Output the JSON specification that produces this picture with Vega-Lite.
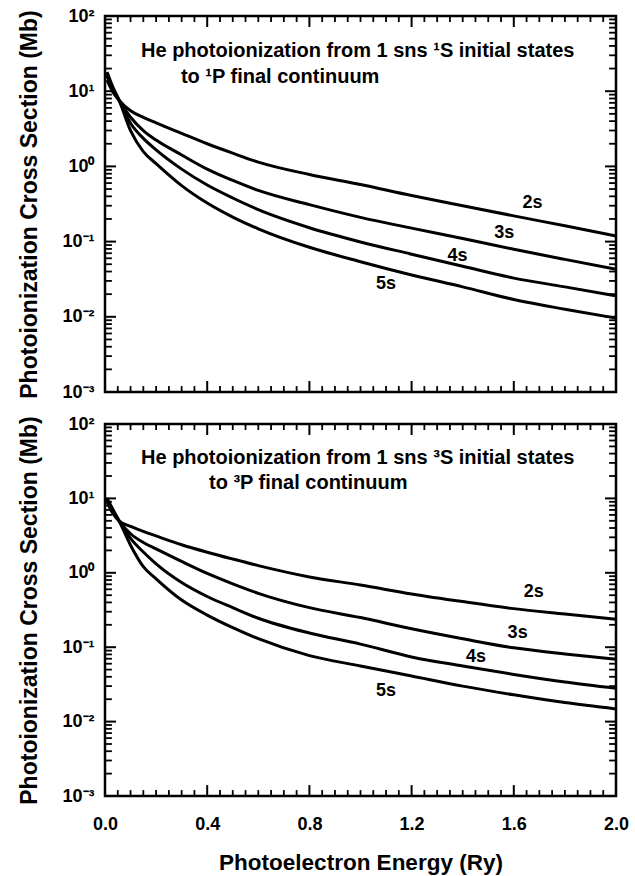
{
  "$schema": "https://vega.github.io/schema/vega-lite/v6.json",
  "padding": {"left": 17, "top": 5, "right": 5, "bottom": 2},
  "spacing": 10,
  "datasets": {
    "singlet": [
      {"s":"2s","E":0.008,"v":14},{"s":"2s","E":0.03,"v":9.8},{"s":"2s","E":0.055,"v":7.6},{"s":"2s","E":0.1,"v":5.5},{"s":"2s","E":0.15,"v":4.5},{"s":"2s","E":0.2,"v":3.8},{"s":"2s","E":0.3,"v":2.75},{"s":"2s","E":0.4,"v":2.0},{"s":"2s","E":0.5,"v":1.5},{"s":"2s","E":0.6,"v":1.14},{"s":"2s","E":0.8,"v":0.78},{"s":"2s","E":1.0,"v":0.575},{"s":"2s","E":1.2,"v":0.41},{"s":"2s","E":1.4,"v":0.3},{"s":"2s","E":1.6,"v":0.22},{"s":"2s","E":1.8,"v":0.162},{"s":"2s","E":2.0,"v":0.119},
      {"s":"3s","E":0.008,"v":16},{"s":"3s","E":0.03,"v":10.5},{"s":"3s","E":0.055,"v":7.6},{"s":"3s","E":0.1,"v":4.5},{"s":"3s","E":0.15,"v":3.0},{"s":"3s","E":0.2,"v":2.24},{"s":"3s","E":0.3,"v":1.42},{"s":"3s","E":0.4,"v":0.92},{"s":"3s","E":0.5,"v":0.65},{"s":"3s","E":0.6,"v":0.48},{"s":"3s","E":0.8,"v":0.31},{"s":"3s","E":1.0,"v":0.21},{"s":"3s","E":1.2,"v":0.151},{"s":"3s","E":1.4,"v":0.11},{"s":"3s","E":1.6,"v":0.079},{"s":"3s","E":1.8,"v":0.058},{"s":"3s","E":2.0,"v":0.043},
      {"s":"4s","E":0.008,"v":17},{"s":"4s","E":0.03,"v":11},{"s":"4s","E":0.055,"v":7.6},{"s":"4s","E":0.1,"v":3.75},{"s":"4s","E":0.15,"v":2.36},{"s":"4s","E":0.2,"v":1.66},{"s":"4s","E":0.3,"v":0.92},{"s":"4s","E":0.4,"v":0.565},{"s":"4s","E":0.5,"v":0.38},{"s":"4s","E":0.6,"v":0.266},{"s":"4s","E":0.8,"v":0.153},{"s":"4s","E":1.0,"v":0.099},{"s":"4s","E":1.2,"v":0.068},{"s":"4s","E":1.4,"v":0.047},{"s":"4s","E":1.6,"v":0.0327},{"s":"4s","E":1.8,"v":0.025},{"s":"4s","E":2.0,"v":0.019},
      {"s":"5s","E":0.008,"v":18},{"s":"5s","E":0.03,"v":11.5},{"s":"5s","E":0.055,"v":7.6},{"s":"5s","E":0.1,"v":2.98},{"s":"5s","E":0.15,"v":1.57},{"s":"5s","E":0.2,"v":1.09},{"s":"5s","E":0.3,"v":0.556},{"s":"5s","E":0.4,"v":0.326},{"s":"5s","E":0.5,"v":0.212},{"s":"5s","E":0.6,"v":0.148},{"s":"5s","E":0.8,"v":0.084},{"s":"5s","E":1.0,"v":0.054},{"s":"5s","E":1.2,"v":0.036},{"s":"5s","E":1.4,"v":0.025},{"s":"5s","E":1.6,"v":0.017},{"s":"5s","E":1.8,"v":0.0126},{"s":"5s","E":2.0,"v":0.0096}
    ],
    "triplet": [
      {"s":"2s","E":0.008,"v":9.0},{"s":"2s","E":0.03,"v":6.3},{"s":"2s","E":0.055,"v":5.0},{"s":"2s","E":0.1,"v":4.2},{"s":"2s","E":0.15,"v":3.6},{"s":"2s","E":0.2,"v":3.13},{"s":"2s","E":0.3,"v":2.38},{"s":"2s","E":0.4,"v":1.89},{"s":"2s","E":0.5,"v":1.53},{"s":"2s","E":0.6,"v":1.25},{"s":"2s","E":0.8,"v":0.88},{"s":"2s","E":1.0,"v":0.685},{"s":"2s","E":1.2,"v":0.52},{"s":"2s","E":1.4,"v":0.41},{"s":"2s","E":1.6,"v":0.33},{"s":"2s","E":1.8,"v":0.279},{"s":"2s","E":2.0,"v":0.237},
      {"s":"3s","E":0.008,"v":9.5},{"s":"3s","E":0.03,"v":6.7},{"s":"3s","E":0.055,"v":5.0},{"s":"3s","E":0.1,"v":3.35},{"s":"3s","E":0.15,"v":2.56},{"s":"3s","E":0.2,"v":2.1},{"s":"3s","E":0.3,"v":1.42},{"s":"3s","E":0.4,"v":0.98},{"s":"3s","E":0.5,"v":0.71},{"s":"3s","E":0.6,"v":0.53},{"s":"3s","E":0.8,"v":0.34},{"s":"3s","E":1.0,"v":0.25},{"s":"3s","E":1.2,"v":0.177},{"s":"3s","E":1.4,"v":0.13},{"s":"3s","E":1.6,"v":0.098},{"s":"3s","E":1.8,"v":0.081},{"s":"3s","E":2.0,"v":0.069},
      {"s":"4s","E":0.008,"v":9.8},{"s":"4s","E":0.03,"v":7.0},{"s":"4s","E":0.055,"v":5.0},{"s":"4s","E":0.1,"v":2.9},{"s":"4s","E":0.15,"v":1.9},{"s":"4s","E":0.2,"v":1.32},{"s":"4s","E":0.3,"v":0.74},{"s":"4s","E":0.4,"v":0.48},{"s":"4s","E":0.5,"v":0.34},{"s":"4s","E":0.6,"v":0.245},{"s":"4s","E":0.8,"v":0.155},{"s":"4s","E":1.0,"v":0.11},{"s":"4s","E":1.2,"v":0.074},{"s":"4s","E":1.4,"v":0.056},{"s":"4s","E":1.6,"v":0.043},{"s":"4s","E":1.8,"v":0.034},{"s":"4s","E":2.0,"v":0.028},
      {"s":"5s","E":0.008,"v":10.0},{"s":"5s","E":0.03,"v":7.2},{"s":"5s","E":0.055,"v":5.0},{"s":"5s","E":0.1,"v":2.35},{"s":"5s","E":0.15,"v":1.21},{"s":"5s","E":0.2,"v":0.83},{"s":"5s","E":0.3,"v":0.43},{"s":"5s","E":0.4,"v":0.27},{"s":"5s","E":0.5,"v":0.183},{"s":"5s","E":0.6,"v":0.13},{"s":"5s","E":0.8,"v":0.077},{"s":"5s","E":1.0,"v":0.056},{"s":"5s","E":1.2,"v":0.041},{"s":"5s","E":1.4,"v":0.03},{"s":"5s","E":1.6,"v":0.0229},{"s":"5s","E":1.8,"v":0.018},{"s":"5s","E":2.0,"v":0.0148}
    ],
    "lblS": [
      {"s":"2s","E":1.673,"v":0.323},{"s":"3s","E":1.563,"v":0.129},{"s":"4s","E":1.38,"v":0.0645},{"s":"5s","E":1.1,"v":0.0273}
    ],
    "lblT": [
      {"s":"2s","E":1.678,"v":0.552},{"s":"3s","E":1.615,"v":0.157},{"s":"4s","E":1.452,"v":0.074},{"s":"5s","E":1.1,"v":0.026}
    ],
    "ttlS": [
      {"t":"He photoionization from 1 sns ¹S initial states","E":0.141,"v":28.5},
      {"t":"to ¹P final continuum","E":0.297,"v":12.9}
    ],
    "ttlT": [
      {"t":"He photoionization from 1 sns ³S initial states","E":0.141,"v":29},
      {"t":"to ³P final continuum","E":0.407,"v":13.4}
    ],
    "yMaj": [{"v":0.001},{"v":0.01},{"v":0.1},{"v":1},{"v":10},{"v":100}],
    "yMin": [{"v":0.002},{"v":0.003},{"v":0.004},{"v":0.005},{"v":0.006},{"v":0.007},{"v":0.008},{"v":0.009},{"v":0.02},{"v":0.03},{"v":0.04},{"v":0.05},{"v":0.06},{"v":0.07},{"v":0.08},{"v":0.09},{"v":0.2},{"v":0.3},{"v":0.4},{"v":0.5},{"v":0.6},{"v":0.7},{"v":0.8},{"v":0.9},{"v":2},{"v":3},{"v":4},{"v":5},{"v":6},{"v":7},{"v":8},{"v":9},{"v":20},{"v":30},{"v":40},{"v":50},{"v":60},{"v":70},{"v":80},{"v":90}],
    "xMaj": [{"E":0.4},{"E":0.8},{"E":1.2},{"E":1.6}],
    "xMin": [{"E":0.05},{"E":0.1},{"E":0.15},{"E":0.2},{"E":0.25},{"E":0.3},{"E":0.35},{"E":0.45},{"E":0.5},{"E":0.55},{"E":0.6},{"E":0.65},{"E":0.7},{"E":0.75},{"E":0.85},{"E":0.9},{"E":0.95},{"E":1.0},{"E":1.05},{"E":1.1},{"E":1.15},{"E":1.25},{"E":1.3},{"E":1.35},{"E":1.4},{"E":1.45},{"E":1.5},{"E":1.55},{"E":1.65},{"E":1.7},{"E":1.75},{"E":1.8},{"E":1.85},{"E":1.9},{"E":1.95}]
  },
  "vconcat": [
    {
      "width": 511,
      "height": 376,
      "layer": [
        {"data": {"name": "yMaj"}, "mark": {"type": "rule", "color": "black", "strokeWidth": 2},
          "encoding": {"x": {"datum": 0, "type": "quantitative", "scale": {"domain": [0, 2], "nice": false}, "axis": null}, "x2": {"datum": 0.043},
            "y": {"field": "v", "type": "quantitative", "scale": {"type": "log", "domain": [0.001, 100], "nice": false}, "axis": null}}},
        {"data": {"name": "yMin"}, "mark": {"type": "rule", "color": "black", "strokeWidth": 1.8},
          "encoding": {"x": {"datum": 0, "type": "quantitative", "scale": {"domain": [0, 2], "nice": false}, "axis": null}, "x2": {"datum": 0.027},
            "y": {"field": "v", "type": "quantitative", "scale": {"type": "log", "domain": [0.001, 100], "nice": false}, "axis": null}}},
        {"data": {"name": "yMaj"}, "mark": {"type": "rule", "color": "black", "strokeWidth": 2},
          "encoding": {"x": {"datum": 1.957, "type": "quantitative", "scale": {"domain": [0, 2], "nice": false}, "axis": null}, "x2": {"datum": 2},
            "y": {"field": "v", "type": "quantitative", "scale": {"type": "log", "domain": [0.001, 100], "nice": false}, "axis": null}}},
        {"data": {"name": "yMin"}, "mark": {"type": "rule", "color": "black", "strokeWidth": 1.8},
          "encoding": {"x": {"datum": 1.973, "type": "quantitative", "scale": {"domain": [0, 2], "nice": false}, "axis": null}, "x2": {"datum": 2},
            "y": {"field": "v", "type": "quantitative", "scale": {"type": "log", "domain": [0.001, 100], "nice": false}, "axis": null}}},
        {"data": {"name": "xMaj"}, "mark": {"type": "rule", "color": "black", "strokeWidth": 2},
          "encoding": {"x": {"field": "E", "type": "quantitative", "scale": {"domain": [0, 2], "nice": false}, "axis": null},
            "y": {"datum": 0.001, "type": "quantitative", "scale": {"type": "log", "domain": [0.001, 100], "nice": false}, "axis": null}, "y2": {"datum": 0.0014}}},
        {"data": {"name": "xMin"}, "mark": {"type": "rule", "color": "black", "strokeWidth": 1.8},
          "encoding": {"x": {"field": "E", "type": "quantitative", "scale": {"domain": [0, 2], "nice": false}, "axis": null},
            "y": {"datum": 0.001, "type": "quantitative", "scale": {"type": "log", "domain": [0.001, 100], "nice": false}, "axis": null}, "y2": {"datum": 0.0012}}},
        {"data": {"name": "xMaj"}, "mark": {"type": "rule", "color": "black", "strokeWidth": 2},
          "encoding": {"x": {"field": "E", "type": "quantitative", "scale": {"domain": [0, 2], "nice": false}, "axis": null},
            "y": {"datum": 71.4, "type": "quantitative", "scale": {"type": "log", "domain": [0.001, 100], "nice": false}, "axis": null}, "y2": {"datum": 100}}},
        {"data": {"name": "xMin"}, "mark": {"type": "rule", "color": "black", "strokeWidth": 1.8},
          "encoding": {"x": {"field": "E", "type": "quantitative", "scale": {"domain": [0, 2], "nice": false}, "axis": null},
            "y": {"datum": 83.2, "type": "quantitative", "scale": {"type": "log", "domain": [0.001, 100], "nice": false}, "axis": null}, "y2": {"datum": 100}}},
        {
          "data": {"name": "singlet"},
          "mark": {"type": "line", "color": "black", "strokeWidth": 3, "interpolate": "monotone"},
          "encoding": {
            "x": {"field": "E", "type": "quantitative", "scale": {"domain": [0, 2], "nice": false},
              "axis": {"orient": "bottom", "title": null, "labels": false, "values": [0,0.4,0.8,1.2,1.6,2]}},
            "y": {"field": "v", "type": "quantitative", "scale": {"type": "log", "domain": [0.001, 100], "nice": false},
              "axis": {"orient": "left", "title": "Photoionization Cross Section (Mb)", "labelPadding": 11, "titlePadding": 20,
                "values": [0.001,0.01,0.1,1,10,100],
                "labelExpr": "['10⁻³','10⁻²','10⁻¹','10⁰','10¹','10²'][round(log(datum.value)/LN10)+3]"}},
            "detail": {"field": "s"}
          }
        },
        {
          "data": {"name": "lblS"},
          "mark": {"type": "text", "fontSize": 18, "fontWeight": "bold", "font": "Liberation Sans", "align": "center", "baseline": "middle"},
          "encoding": {
            "x": {"field": "E", "type": "quantitative", "scale": {"domain": [0, 2], "nice": false}, "axis": null},
            "y": {"field": "v", "type": "quantitative", "scale": {"type": "log", "domain": [0.001, 100], "nice": false}, "axis": null},
            "text": {"field": "s"}
          }
        },
        {
          "data": {"name": "ttlS"},
          "mark": {"type": "text", "fontSize": 20, "fontWeight": "bold", "font": "Liberation Sans", "align": "left", "baseline": "alphabetic"},
          "encoding": {
            "x": {"field": "E", "type": "quantitative", "scale": {"domain": [0, 2], "nice": false}, "axis": null},
            "y": {"field": "v", "type": "quantitative", "scale": {"type": "log", "domain": [0.001, 100], "nice": false}, "axis": null},
            "text": {"field": "t"}
          }
        }
      ],
      "resolve": {"axis": {"x": "independent", "y": "independent"}}
    },
    {
      "width": 511,
      "height": 372,
      "layer": [
        {"data": {"name": "yMaj"}, "mark": {"type": "rule", "color": "black", "strokeWidth": 2},
          "encoding": {"x": {"datum": 0, "type": "quantitative", "scale": {"domain": [0, 2], "nice": false}, "axis": null}, "x2": {"datum": 0.043},
            "y": {"field": "v", "type": "quantitative", "scale": {"type": "log", "domain": [0.001, 100], "nice": false}, "axis": null}}},
        {"data": {"name": "yMin"}, "mark": {"type": "rule", "color": "black", "strokeWidth": 1.8},
          "encoding": {"x": {"datum": 0, "type": "quantitative", "scale": {"domain": [0, 2], "nice": false}, "axis": null}, "x2": {"datum": 0.027},
            "y": {"field": "v", "type": "quantitative", "scale": {"type": "log", "domain": [0.001, 100], "nice": false}, "axis": null}}},
        {"data": {"name": "yMaj"}, "mark": {"type": "rule", "color": "black", "strokeWidth": 2},
          "encoding": {"x": {"datum": 1.957, "type": "quantitative", "scale": {"domain": [0, 2], "nice": false}, "axis": null}, "x2": {"datum": 2},
            "y": {"field": "v", "type": "quantitative", "scale": {"type": "log", "domain": [0.001, 100], "nice": false}, "axis": null}}},
        {"data": {"name": "yMin"}, "mark": {"type": "rule", "color": "black", "strokeWidth": 1.8},
          "encoding": {"x": {"datum": 1.973, "type": "quantitative", "scale": {"domain": [0, 2], "nice": false}, "axis": null}, "x2": {"datum": 2},
            "y": {"field": "v", "type": "quantitative", "scale": {"type": "log", "domain": [0.001, 100], "nice": false}, "axis": null}}},
        {"data": {"name": "xMaj"}, "mark": {"type": "rule", "color": "black", "strokeWidth": 2},
          "encoding": {"x": {"field": "E", "type": "quantitative", "scale": {"domain": [0, 2], "nice": false}, "axis": null},
            "y": {"datum": 0.001, "type": "quantitative", "scale": {"type": "log", "domain": [0.001, 100], "nice": false}, "axis": null}, "y2": {"datum": 0.0014}}},
        {"data": {"name": "xMin"}, "mark": {"type": "rule", "color": "black", "strokeWidth": 1.8},
          "encoding": {"x": {"field": "E", "type": "quantitative", "scale": {"domain": [0, 2], "nice": false}, "axis": null},
            "y": {"datum": 0.001, "type": "quantitative", "scale": {"type": "log", "domain": [0.001, 100], "nice": false}, "axis": null}, "y2": {"datum": 0.0012}}},
        {"data": {"name": "xMaj"}, "mark": {"type": "rule", "color": "black", "strokeWidth": 2},
          "encoding": {"x": {"field": "E", "type": "quantitative", "scale": {"domain": [0, 2], "nice": false}, "axis": null},
            "y": {"datum": 71.2, "type": "quantitative", "scale": {"type": "log", "domain": [0.001, 100], "nice": false}, "axis": null}, "y2": {"datum": 100}}},
        {"data": {"name": "xMin"}, "mark": {"type": "rule", "color": "black", "strokeWidth": 1.8},
          "encoding": {"x": {"field": "E", "type": "quantitative", "scale": {"domain": [0, 2], "nice": false}, "axis": null},
            "y": {"datum": 83.0, "type": "quantitative", "scale": {"type": "log", "domain": [0.001, 100], "nice": false}, "axis": null}, "y2": {"datum": 100}}},
        {
          "data": {"name": "triplet"},
          "mark": {"type": "line", "color": "black", "strokeWidth": 3, "interpolate": "monotone"},
          "encoding": {
            "x": {"field": "E", "type": "quantitative", "scale": {"domain": [0, 2], "nice": false},
              "axis": {"orient": "bottom", "title": "Photoelectron Energy (Ry)", "titleFontSize": 22.5, "labelPadding": 19, "titlePadding": 18,
                "values": [0,0.4,0.8,1.2,1.6,2], "format": ".1f"}},
            "y": {"field": "v", "type": "quantitative", "scale": {"type": "log", "domain": [0.001, 100], "nice": false},
              "axis": {"orient": "left", "title": "Photoionization Cross Section (Mb)", "labelPadding": 11, "titlePadding": 20,
                "values": [0.001,0.01,0.1,1,10,100],
                "labelExpr": "['10⁻³','10⁻²','10⁻¹','10⁰','10¹','10²'][round(log(datum.value)/LN10)+3]"}},
            "detail": {"field": "s"}
          }
        },
        {
          "data": {"name": "lblT"},
          "mark": {"type": "text", "fontSize": 18, "fontWeight": "bold", "font": "Liberation Sans", "align": "center", "baseline": "middle"},
          "encoding": {
            "x": {"field": "E", "type": "quantitative", "scale": {"domain": [0, 2], "nice": false}, "axis": null},
            "y": {"field": "v", "type": "quantitative", "scale": {"type": "log", "domain": [0.001, 100], "nice": false}, "axis": null},
            "text": {"field": "s"}
          }
        },
        {
          "data": {"name": "ttlT"},
          "mark": {"type": "text", "fontSize": 20, "fontWeight": "bold", "font": "Liberation Sans", "align": "left", "baseline": "alphabetic"},
          "encoding": {
            "x": {"field": "E", "type": "quantitative", "scale": {"domain": [0, 2], "nice": false}, "axis": null},
            "y": {"field": "v", "type": "quantitative", "scale": {"type": "log", "domain": [0.001, 100], "nice": false}, "axis": null},
            "text": {"field": "t"}
          }
        }
      ],
      "resolve": {"axis": {"x": "independent", "y": "independent"}}
    }
  ],
  "config": {
    "font": "Liberation Sans",
    "view": {"stroke": "black", "strokeWidth": 2.5},
    "axis": {
      "domain": false, "ticks": false, "tickSize": 0, "grid": false,
      "labelFont": "Liberation Sans", "labelFontSize": 18, "labelFontWeight": "bold", "labelColor": "black",
      "labelOverlap": false, "labelFlush": false,
      "titleFont": "Liberation Sans", "titleFontSize": 23, "titleFontWeight": "bold", "titleColor": "black"
    }
  }
}
